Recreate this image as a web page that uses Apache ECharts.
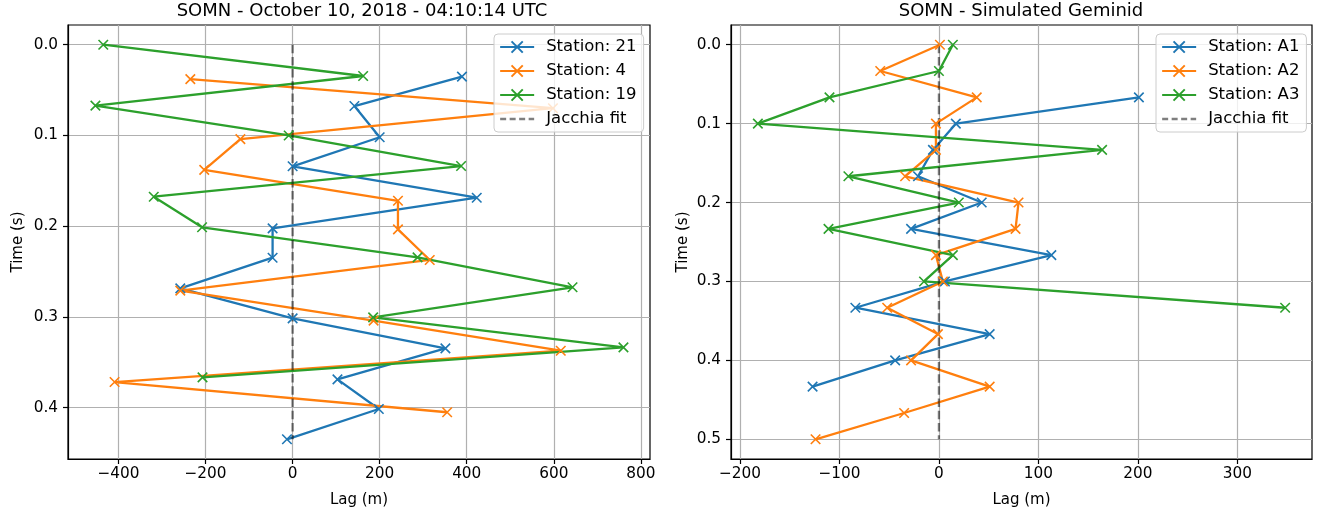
<!DOCTYPE html>
<html>
<head>
<meta charset="utf-8">
<script src="https://cdn.jsdelivr.net/npm/echarts@6/dist/echarts.min.js"></script>
<style>html,body{margin:0;padding:0;background:#fff}#c{width:1322px;height:515px}</style>
</head>
<body>
<div id="c"></div>
<script>
// ---- Left panel: SOMN - October 10, 2018 ----
const titleLeft = 'SOMN - October 10, 2018 - 04:10:14 UTC';
const titleRight = 'SOMN - Simulated Geminid';

const st21_t = [0.0352, 0.0676, 0.102, 0.134, 0.1686, 0.2024, 0.2347, 0.2685, 0.3015, 0.3346, 0.3687, 0.4014, 0.4348];
const st21_x = [389, 142, 200, 0, 423, -46, -46, -258, 0, 351, 103, 198, -13];

const st4_t = [0.038, 0.070, 0.104, 0.138, 0.172, 0.2035, 0.2372, 0.271, 0.304, 0.3372, 0.3717, 0.405];
const st4_x = [-235, 598, -120, -203, 242, 242, 315, -258, 186, 616, -409, 355];

const st19_t = [0, 0.0345, 0.0672, 0.100, 0.1337, 0.1675, 0.2012, 0.2343, 0.2673, 0.3004, 0.3335, 0.3665];
const st19_x = [-435, 162, -453, -9, 387, -319, -208, 287, 643, 185, 760, -207];

const jacL_t = [0, 0.4348];
const jacL_x = [0, 0];

// ---- Right panel: Simulated Geminid ----
const a1_t = [0.0667, 0.1, 0.1333, 0.1667, 0.2, 0.2333, 0.2667, 0.3, 0.3333, 0.3667, 0.4, 0.4333];
const a1_x = [201, 17, -6, -21, 43, -28, 113, 6, -84, 51, -44, -127];

const a2_t = [0, 0.0333, 0.0667, 0.1, 0.1333, 0.1667, 0.2, 0.2333, 0.2667, 0.3, 0.3333, 0.3667, 0.4, 0.4333, 0.4667, 0.5];
const a2_x = [1, -59, 38, -3, -3, -34, 80, 77, -3, 4, -52, -1, -28, 51, -35, -124];

const a3_t = [0, 0.0333, 0.0667, 0.1, 0.1333, 0.1667, 0.2, 0.2333, 0.2667, 0.3, 0.3333];
const a3_x = [14, 0, -110, -182, 164, -91, 20, -111, 14, -15, 348];

const jacR_t = [0, 0.5];
const jacR_x = [0, 0];

// tick labels
const xTicksL = [-400, -200, 0, 200, 400, 600, 800];
const yTicksL = [0, 0.1, 0.2, 0.3, 0.4];
const xTicksR = [-200, -100, 0, 100, 200, 300];
const yTicksR = [0, 0.1, 0.2, 0.3, 0.4, 0.5];

const seriesNamesL = ['Station: 21', 'Station: 4', 'Station: 19', 'Jacchia fit'];
const seriesNamesR = ['Station: A1', 'Station: A2', 'Station: A3', 'Jacchia fit'];

const C_BLUE = '#1f77b4', C_ORANGE = '#ff7f0e', C_GREEN = '#2ca02c';
const JAC_COLOR = 'rgba(0,0,0,0.5)';
const FONT = 'DejaVu Sans';
const XSYM = 'path://M0,0L10,10M10,0L0,10';

function pairs(xs, ts) { return xs.map((x, i) => [x, ts[i]]); }
function minusFmt(v) { return String(v).replace('-', '\u2212'); }

function lineSeries(name, color, data, idx) {
  return {
    name: name, type: 'line', xAxisIndex: idx, yAxisIndex: idx,
    data: data, symbol: XSYM, symbolSize: 9.5, showSymbol: true,
    lineStyle: { color: color, width: 2.3 },
    itemStyle: { color: color, borderColor: color, borderWidth: 1.6 },
    emphasis: { disabled: true }, z: 3
  };
}
function jacSeries(name, data, idx) {
  return {
    name: name, type: 'line', xAxisIndex: idx, yAxisIndex: idx,
    data: data, symbol: 'none',
    lineStyle: { color: JAC_COLOR, width: 2.3, type: [8.5, 3.7] },
    itemStyle: { color: JAC_COLOR },
    emphasis: { disabled: true }, z: 3
  };
}

function xAxisDef(idx, min, max, ticks) {
  return {
    type: 'value', gridIndex: idx, min: min, max: max,
    name: 'Lag (m)', nameLocation: 'middle', nameGap: 34,
    nameTextStyle: { fontFamily: FONT, fontSize: 15, color: '#000' },
    axisLine: { show: true, onZero: false, lineStyle: { color: '#000', width: 1.2 } },
    axisTick: { show: true, length: 5, customValues: ticks, lineStyle: { color: '#000', width: 1.2 } },
    axisLabel: { customValues: ticks, margin: 8, fontFamily: FONT, fontSize: 15.3, color: '#000', formatter: minusFmt },
    splitLine: { show: true, lineStyle: { color: '#b0b0b0', width: 1.2 } }
  };
}
function yAxisDef(idx, min, max, ticks, gap) {
  return {
    type: 'value', gridIndex: idx, min: min, max: max, inverse: true,
    name: 'Time (s)', nameLocation: 'middle', nameGap: gap,
    nameTextStyle: { fontFamily: FONT, fontSize: 15, color: '#000' },
    axisLine: { show: true, onZero: false, lineStyle: { color: '#000', width: 1.2 } },
    axisTick: { show: true, length: 5, customValues: ticks, lineStyle: { color: '#000', width: 1.2 } },
    axisLabel: { customValues: ticks, margin: 10, fontFamily: FONT, fontSize: 15.3, color: '#000', formatter: v => v.toFixed(1) },
    splitLine: { show: true, lineStyle: { color: '#b0b0b0', width: 1.2 } }
  };
}
function legendDef(left, names) {
  const data = names.map((n, i) => i === 3
    ? { name: n, itemStyle: { opacity: 0 }, lineStyle: { color: 'rgba(0,0,0,0.5)', width: 2.3, type: [6, 3.5] } }
    : { name: n });
  return {
    left: left, top: 34, orient: 'vertical', data: data,
    itemWidth: 34, itemHeight: 14, itemGap: 6,
    padding: [4, 7, 4, 5],
    backgroundColor: 'rgba(255,255,255,0.8)', borderColor: '#cccccc', borderWidth: 1, borderRadius: 4,
    textStyle: { fontFamily: FONT, fontSize: 16.5, color: '#000', lineHeight: 18, padding: [0, 0, 0, 7] },
    selectedMode: false, z: 10
  };
}

const chart = echarts.init(document.getElementById('c'), null, { renderer: 'canvas' });
chart.setOption({
  animation: false,
  backgroundColor: '#fff',
  title: [
    { text: titleLeft, left: 362, top: 2, textAlign: 'center', padding: 0,
      textStyle: { fontFamily: FONT, fontSize: 18, fontWeight: 'normal', color: '#000' } },
    { text: titleRight, left: 1021, top: 2, textAlign: 'center', padding: 0,
      textStyle: { fontFamily: FONT, fontSize: 18, fontWeight: 'normal', color: '#000' } }
  ],
  grid: [
    { left: 68, top: 25, width: 582, height: 434, show: true, borderColor: '#000', borderWidth: 1.2, backgroundColor: 'transparent' },
    { left: 731, top: 25, width: 581, height: 434, show: true, borderColor: '#000', borderWidth: 1.2, backgroundColor: 'transparent' }
  ],
  xAxis: [
    xAxisDef(0, -516, 821, xTicksL),
    xAxisDef(1, -209, 375, xTicksR)
  ],
  yAxis: [
    yAxisDef(0, -0.0217, 0.4565, yTicksL, 42),
    yAxisDef(1, -0.025, 0.525, yTicksR, 40)
  ],
  legend: [
    legendDef(494, seriesNamesL),
    legendDef(1156, seriesNamesR)
  ],
  series: [
    lineSeries(seriesNamesL[0], C_BLUE, pairs(st21_x, st21_t), 0),
    lineSeries(seriesNamesL[1], C_ORANGE, pairs(st4_x, st4_t), 0),
    lineSeries(seriesNamesL[2], C_GREEN, pairs(st19_x, st19_t), 0),
    jacSeries(seriesNamesL[3], pairs(jacL_x, jacL_t), 0),
    lineSeries(seriesNamesR[0], C_BLUE, pairs(a1_x, a1_t), 1),
    lineSeries(seriesNamesR[1], C_ORANGE, pairs(a2_x, a2_t), 1),
    lineSeries(seriesNamesR[2], C_GREEN, pairs(a3_x, a3_t), 1),
    jacSeries(seriesNamesR[3], pairs(jacR_x, jacR_t), 1)
  ]
});
</script>
</body>
</html>
